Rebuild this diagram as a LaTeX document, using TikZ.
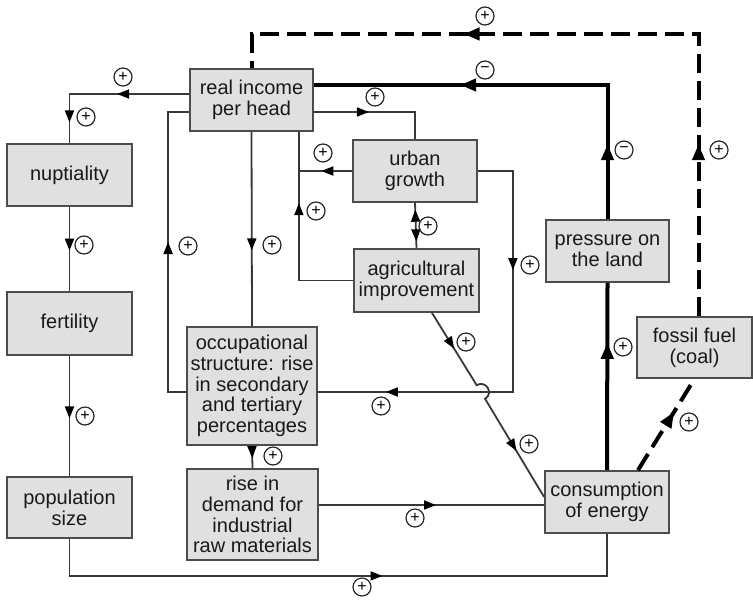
\documentclass[tikz,border=0pt]{standalone}
\usepackage{fontspec}
\setmainfont{Liberation Sans}
\usepackage{tikz}
\usetikzlibrary{arrows.meta,calc,decorations.markings}
\definecolor{caja}{gray}{0.88}
\definecolor{borde}{gray}{0.3}
\definecolor{linea}{gray}{0.22}
\tikzstyle{box}=[draw=borde, fill=caja, line width=0.9pt, align=center,
                 inner sep=0pt, text=black!90,
                 font=\fontsize{10}{10.4}\selectfont]
\tikzstyle{thinlink}=[draw=linea, line width=0.9pt]
\tikzstyle{landlink}=[draw=black, line width=2pt]
\tikzstyle{fuellink}=[draw=black, line width=2pt,
                      dash pattern=on 9.5pt off 4pt]
\tikzstyle{effect}=[circle, draw=black!85, line width=0.6pt,
                    minimum size=9pt, inner sep=0pt,
                    font=\fontsize{8}{8}\selectfont]
\tikzset{
  boxsize/.style 2 args={minimum width=#1*0.5pt, minimum height=#2*0.5pt},
  tipat/.style={postaction={decorate,decoration={markings,
      mark=at position #1 with {\arrow{Triangle[length=6pt,width=4.5pt,color=black]}}}}},
  backtipat/.style={postaction={decorate,decoration={markings,
      mark=at position #1 with {\arrowreversed{Triangle[length=6pt,width=4.5pt,color=black]}}}}},
  bigtipat/.style={postaction={decorate,decoration={markings,
      mark=at position #1 with {\arrow{Triangle[length=8pt,width=6pt]}}}}}
}

\begin{document}
\begin{tikzpicture}[x=0.5pt, y=-0.5pt]
    \useasboundingbox (0,0) rectangle (753,600);

    \node[box, boxsize={123}{62}]  (income) at (251.5,100) {real income\\per head};
    \node[box, boxsize={125}{62}]  (nupt)   at (69.5,175)  {nuptiality};
    \node[box, boxsize={125}{63}]  (fert)   at (69.5,323.5) {fertility};
    \node[box, boxsize={125}{61}]  (pop)    at (69.5,507.5) {population\\size};
    \node[box, boxsize={130}{118}] (occup)  at (252,386)   {occupational\\structure: rise\\in secondary\\and tertiary\\percentages};
    \node[box, boxsize={131}{91}]  (demand) at (252.5,514.5) {rise in\\demand for\\industrial\\raw materials};
    \node[box, boxsize={124}{62}]  (urban)  at (415,171)   {urban\\growth};
    \node[box, boxsize={125}{63}]  (agri)   at (416.5,280.5) {agricultural\\improvement};
    \node[box, boxsize={123}{62}]  (press)  at (607.5,251) {pressure on\\the land};
    \node[box, boxsize={115}{61}]  (fossil) at (694.5,347.5) {fossil fuel\\(coal)};
    \node[box, boxsize={124}{62}]  (cons)   at (607,502)   {consumption\\of energy};
    \coordinate (join) at (298,171);

    % demographic side
    \draw[thinlink, tipat=36pt, tipat=74pt] (income.west |- 0,94) -| (nupt.north);
    \foreach \a/\b in {nupt/fert,fert/pop}
        \draw[thinlink, tipat=0.52] (\a.south) -- (\b.north);
    \draw[thinlink, tipat=175pt] (pop.south) -- ++(0,37) -| (cons.south);

    % income, occupations, demand
    \draw[thinlink, tipat=27.5pt] (income.east |- 0,112) -| (urban.north);
    \draw[thinlink, tipat=84pt] (occup.west |- 0,392) -- ++(-18,0) |- (income.west |- 0,112);
    \draw[thinlink, tipat=0.61] (income.south) -- (occup.north);
    \draw[thinlink, tipat=0.55] (occup.south) -- (demand.north);
    \draw[thinlink, tipat=0.52] (demand.east |- 0,505) -- (cons.west |- 0,505);

    % urban growth and agriculture
    \draw[thinlink, tipat=65.75pt] (agri.west) -| ($(income.south east)+(-15,0)$);
    \draw[thinlink, tipat=0.57] (urban.west) -- (join);
    \draw[thinlink, backtipat=0.15, tipat=0.85] (urban.south) -- (agri.north);
    \draw[thinlink, tipat=67pt, tipat=191.5pt] (urban.east) -- ++(35,0) |- (occup.east |- 0,392);
    \draw[thinlink, tipat=21pt, tipat=85.5pt] ($(agri.south)+(15.5,0)$) -- (476.7,385.2)
        .. controls +(9.1,-5.6) and +(9.1,-5.6) .. (485.1,398.8) -- ($(cons.west)+(0,-5)$);

    % energy
    \draw[landlink, bigtipat=37.5pt, bigtipat=140.75pt] (press.north) |- (income.east |- 0,85);
    \draw[landlink, bigtipat=0.68] (cons.north) -- (press.south);
    \draw[fuellink, bigtipat=86pt, bigtipat=258.5pt] ($(fossil.north)+(4,0)$) |- (income.north |- 0,34) -- (income.north);
    \draw[fuellink, bigtipat=0.64] ($(cons.north)+(31,0)$) -- (fossil.south);

    \foreach \n/\x/\y/\s in {1/123/77/+, 2/86/117/+, 3/84/245/+, 4/85/416/+,
            5/362/587/+, 6/375/97/+, 7/485/70/−, 8/485/16/+, 9/624/150/−,
            10/719/150/+, 11/623/347/+, 12/689/422/+, 13/323/153/+,
            14/316/211/+, 15/428/226/+, 16/530/265/+, 17/381/406/+,
            18/466/342/+, 19/529/444/+, 20/188/246/+, 21/272/245/+,
            22/273/456/+, 23/415/518/+}
        \node[effect] (e\n) at (\x,\y) {\s};
\end{tikzpicture}
\end{document}
